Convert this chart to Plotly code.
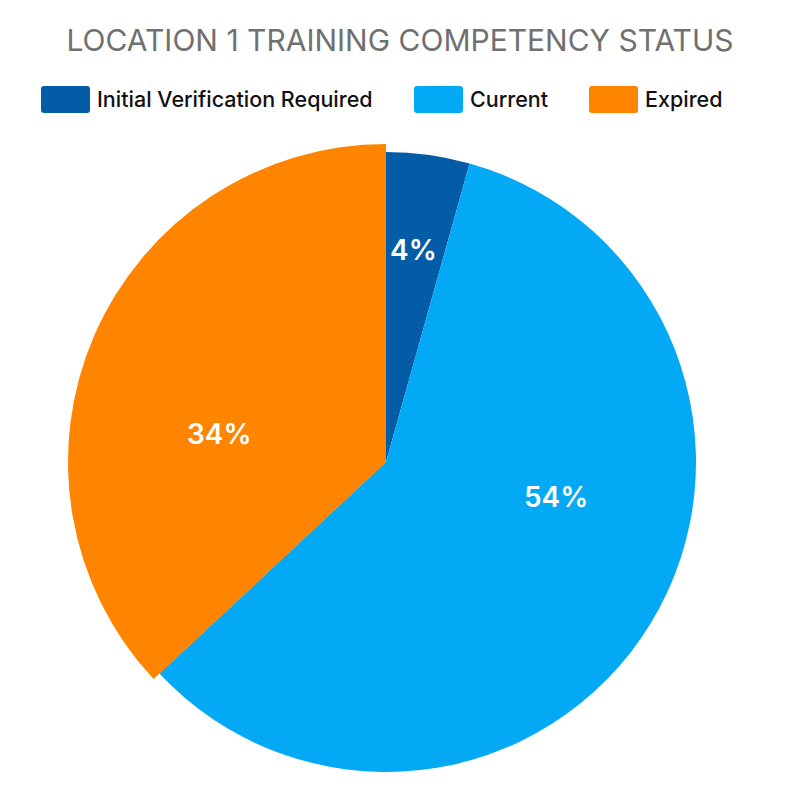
import plotly.graph_objects as go

# chart data
statuses = ["Initial Verification Required", "Current", "Expired"]
counts = [4, 54, 34]
slice_colors = ["#045CA7", "#03A9F4", "#FF8500"]

# the page adds an 8px body margin, so the figure is a bit smaller
OFF = 8
W, H = 792 - OFF, 809 - OFF
# plot area in figure pixels (outer pie fills it, inner pie is a bit smaller)
L, T, pw, ph = 60, 136, 636, 636
R, B = W - L - pw, H - T - ph
inset = 8 / pw


def px2x(px):
    # screen pixel -> paper x
    return (px - OFF - L) / pw


def px2y(py):
    # screen pixel -> paper y
    return (H - B - (py - OFF)) / ph


def rounded_rect(x0, y0, x1, y1, r=3):
    a, b, c, d = px2x(x0), px2x(x1), px2y(y0), px2y(y1)
    rx, ry = r / pw, r / ph
    return (f"M{a + rx},{c} L{b - rx},{c} Q{b},{c} {b},{c - ry} "
            f"L{b},{d + ry} Q{b},{d} {b - rx},{d} L{a + rx},{d} "
            f"Q{a},{d} {a},{d + ry} L{a},{c - ry} Q{a},{c} {a + rx},{c} Z")


fig = go.Figure()

# "Expired" is drawn with a slightly larger radius
fig.add_trace(go.Pie(
    labels=statuses,
    values=counts,
    sort=False,
    direction="clockwise",
    rotation=0,
    marker=dict(colors=["rgba(0,0,0,0)", "rgba(0,0,0,0)", slice_colors[2]],
                line=dict(width=0)),
    textinfo="none",
    hoverinfo="skip",
    showlegend=False,
    domain=dict(x=[0, 1], y=[0, 1]),
))

fig.add_trace(go.Pie(
    labels=statuses,
    values=counts,
    sort=False,
    direction="clockwise",
    rotation=0,
    marker=dict(colors=slice_colors, line=dict(width=0)),
    textinfo="none",
    showlegend=False,
    domain=dict(x=[inset, 1 - inset], y=[inset, 1 - inset]),
))

shapes = []
annotations = []

# percentage labels inside the slices
label_pos = [(413, 250), (556, 497), (219, 434)]
for val, (lx, ly) in zip(counts, label_pos):
    annotations.append(dict(text=f"{val}%", x=px2x(lx), y=px2y(ly),
                            xref="paper", yref="paper", xanchor="center",
                            yanchor="middle", showarrow=False,
                            font=dict(family="Inter", size=28, color="white",
                                      weight=600)))

# legend drawn by hand: wide rounded swatches
swatch_left = [41, 414, 589]
for name, col, sx in zip(statuses, slice_colors, swatch_left):
    shapes.append(dict(type="path", xref="paper", yref="paper",
                       path=rounded_rect(sx, 86, sx + 49, 113),
                       fillcolor=col, line=dict(width=0)))
    annotations.append(dict(text=name, x=px2x(sx + 54), y=px2y(99),
                            xref="paper", yref="paper", xanchor="left",
                            yanchor="middle", showarrow=False,
                            font=dict(family="Inter", size=21.5, color="#111111",
                                      weight=500)))

fig.update_layout(
    title=dict(text="LOCATION 1 TRAINING COMPETENCY STATUS",
               x=0.5, xanchor="center", y=1 - (40 - OFF) / H, yanchor="middle",
               font=dict(family="Inter", size=30, color="#707070", weight=400)),
    width=W,
    height=H,
    margin=dict(l=L, r=R, t=T, b=B),
    paper_bgcolor="white",
    plot_bgcolor="white",
    shapes=shapes,
    annotations=annotations,
    showlegend=False,
)

fig.write_html("out.html")
